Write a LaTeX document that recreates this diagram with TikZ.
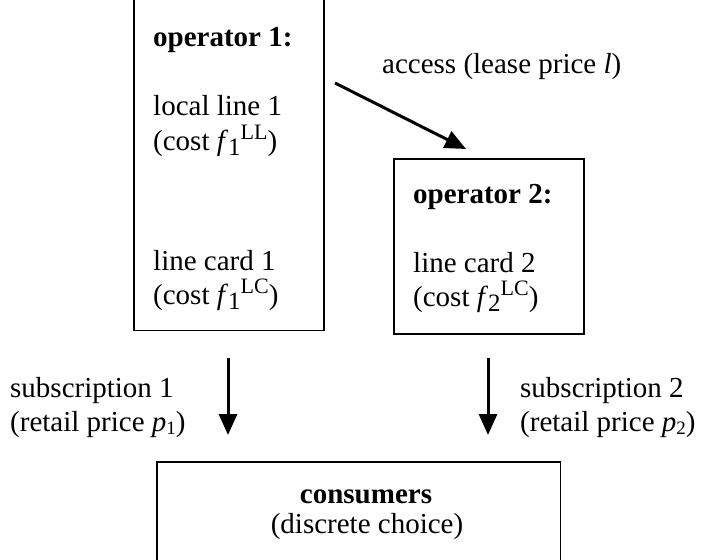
\documentclass[tikz,border=0pt]{standalone}
\usepackage{fontspec}
\setmainfont{Liberation Serif}
\usetikzlibrary{arrows.meta}
\newcommand\lsub[1]{\raisebox{-0.45ex}{\fontsize{25}{25}\selectfont #1}}
\newcommand\lsup[1]{\raisebox{0.8ex}{\fontsize{22}{22}\selectfont #1}}
\newcommand\psub[1]{\raisebox{-0.25ex}{\fontsize{19}{19}\selectfont #1}}
\begin{document}
\begin{tikzpicture}[x=1pt,y=-1pt,
  txt/.style={font=\fontsize{29}{33}\selectfont, inner sep=0pt, anchor=base west},
  btxt/.style={txt, font=\fontsize{29}{33}\selectfont\bfseries},
  boxed/.style={draw, line width=1.5pt, inner sep=0pt},
  arr/.style={line width=3pt, -{Triangle[length=21pt,width=18pt]}}]
\useasboundingbox (0,0) rectangle (706,559);
% operator 1
\node[boxed, minimum width=190pt, minimum height=360pt, anchor=south west] (op1) at (133,331) {};
\node[btxt] (op1t) at (153,47) {operator 1:};
\node[txt] (ll1) at (153,115) {local line 1};
\node[txt] (ll1c) at (153,150) {(cost \textit{f}\lsub{1}\lsup{LL})};
\node[txt] (lc1) at (153,270) {line card 1};
\node[txt] (lc1c) at (153,304) {(cost \textit{f}\lsub{1}\lsup{LC})};
% operator 2
\node[boxed, minimum width=190pt, minimum height=175pt, anchor=north west] (op2) at (393,158) {};
\node[btxt] (op2t) at (413,203) {operator 2:};
\node[txt] (lc2) at (413,272) {line card 2};
\node[txt] (lc2c) at (413,306) {(cost \textit{f}\lsub{2}\lsup{LC})};
% access
\node[txt] (acc) at (382,74) {access (lease price \textit{l})};
\coordinate (accs) at (335,83);
\coordinate (acce) at (466,149);
\draw[arr] (accs) -- (acce);
% consumers
\node[inner sep=0pt, minimum width=403pt, minimum height=130pt, anchor=north west] (cons) at (157,462) {};
\draw[line width=1.2pt] (cons.south west) -- (cons.north west) -- (cons.north east) -- (cons.south east);
\coordinate (ctl) at (205,462);
\coordinate (ctr) at (513,462);
\draw[line width=2.2pt] (ctl) -- (ctr);
\node[font=\fontsize{29}{33}\selectfont\bfseries, inner sep=0pt, anchor=base] (ct) at (366,503) {consumers};
\node[font=\fontsize{29}{33}\selectfont, inner sep=0pt, anchor=base] (cd) at (367,533) {(discrete choice)};
% subscription arrows
\coordinate (s1s) at (228,358);
\coordinate (s1e) at (228,435);
\draw[arr] (s1s) -- (s1e);
\coordinate (s2s) at (488,358);
\coordinate (s2e) at (488,435);
\draw[arr] (s2s) -- (s2e);
\node[txt] (sub1) at (10,397) {subscription 1};
\node[txt] (sub1p) at (10,431) {(retail price \textit{p}\psub{1})};
\node[txt] (sub2) at (520,397) {subscription 2};
\node[txt] (sub2p) at (520,431) {(retail price \textit{p}\psub{2})};
\end{tikzpicture}
\end{document}
